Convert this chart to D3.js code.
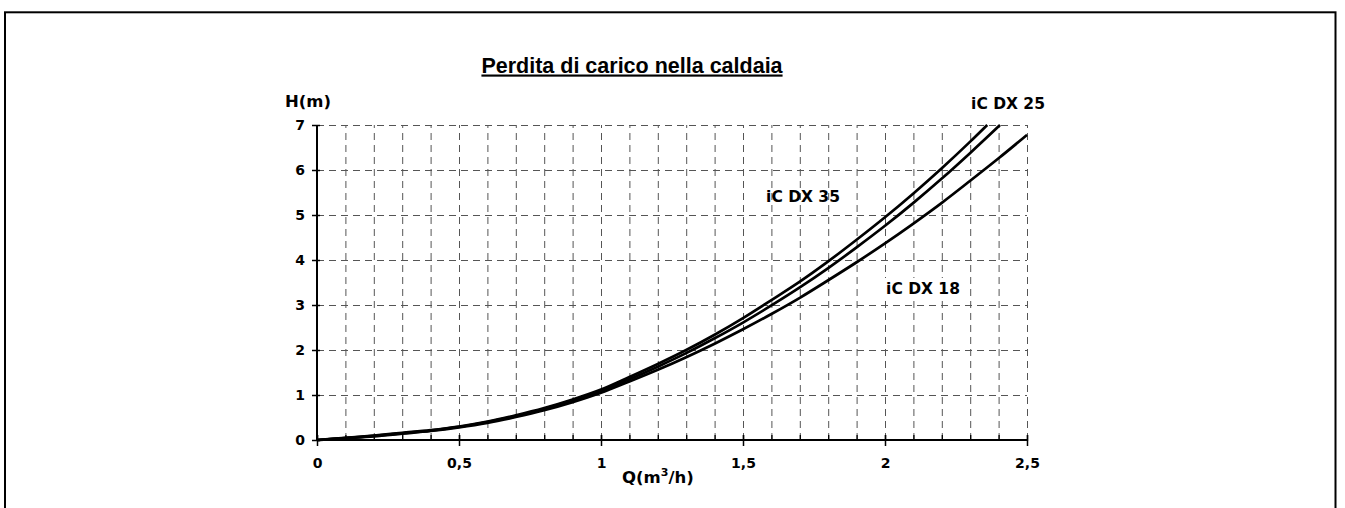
<!DOCTYPE html>
<html>
<head>
<meta charset="utf-8">
<script src="https://cdn.jsdelivr.net/npm/d3@7"></script>
<style>
  html, body { margin: 0; padding: 0; background: #fff; }
  svg { display: block; }
  text { font-family: "DejaVu Sans", Verdana, sans-serif; font-weight: bold; fill: #000; }
</style>
</head>
<body>
<svg id="chart" width="1345" height="508"></svg>
<script>
// ---- data ----
const title = "Perdita di carico nella caldaia";
const yAxisTitle = "H(m)";
const xTickValues = [0, 0.5, 1, 1.5, 2, 2.5];
const xTickLabels = ["0", "0,5", "1", "1,5", "2", "2,5"];
const yTickValues = [0, 1, 2, 3, 4, 5, 6, 7];
const yTickLabels = ["0", "1", "2", "3", "4", "5", "6", "7"];
const seriesNames = ["iC DX 25", "iC DX 35", "iC DX 18"];
const qDX25 = [0, 0.1, 0.2, 0.3, 0.4, 0.5, 0.6, 0.7, 0.8, 0.9, 1.0, 1.1, 1.2, 1.3, 1.4, 1.5, 1.6, 1.7, 1.8, 1.9, 2.0, 2.1, 2.2, 2.3, 2.36];
const hDX25 = [0, 0.05, 0.1, 0.16, 0.22, 0.3, 0.41, 0.55, 0.71, 0.9, 1.12, 1.4, 1.69, 2.0, 2.34, 2.71, 3.11, 3.52, 3.97, 4.45, 4.95, 5.48, 6.04, 6.63, 7.0];
const qDX35 = [0, 0.1, 0.2, 0.3, 0.4, 0.5, 0.6, 0.7, 0.8, 0.9, 1.0, 1.1, 1.2, 1.3, 1.4, 1.5, 1.6, 1.7, 1.8, 1.9, 2.0, 2.1, 2.2, 2.3, 2.405];
const hDX35 = [0, 0.04, 0.09, 0.15, 0.21, 0.29, 0.4, 0.53, 0.69, 0.88, 1.09, 1.35, 1.63, 1.93, 2.26, 2.61, 2.99, 3.39, 3.82, 4.28, 4.76, 5.27, 5.81, 6.38, 7.0];
const qDX18 = [0, 0.1, 0.2, 0.3, 0.4, 0.5, 0.6, 0.7, 0.8, 0.9, 1.0, 1.1, 1.2, 1.3, 1.4, 1.5, 1.6, 1.7, 1.8, 1.9, 2.0, 2.1, 2.2, 2.3, 2.4, 2.5];
const hDX18 = [0, 0.04, 0.08, 0.14, 0.2, 0.28, 0.38, 0.51, 0.66, 0.84, 1.05, 1.3, 1.56, 1.84, 2.14, 2.46, 2.8, 3.16, 3.55, 3.95, 4.37, 4.81, 5.27, 5.76, 6.26, 6.78];

// ---- layout ----
const svg = d3.select("#chart");
const X0 = 317, X1 = 1027, Y0 = 440, Y1 = 125;
const x = d3.scaleLinear().domain([0, 2.5]).range([X0, X1]);
const y = d3.scaleLinear().domain([0, 7]).range([Y0, Y1]);
const minorX = d3.range(0, 26).map(i => +(i / 10).toFixed(1));
const FONT = '"DejaVu Sans", Verdana, sans-serif';

// outer frame
svg.append("rect").attr("x", 5).attr("y", 12.3).attr("width", 1330.5).attr("height", 520)
  .attr("fill", "none").attr("stroke", "#000").attr("stroke-width", 2);

// vertical grid
const gv = svg.append("g").attr("transform", `translate(0,${Y0})`)
  .call(d3.axisBottom(x).tickValues(minorX.slice(1)).tickSize(-(Y0 - Y1)).tickFormat(""));
gv.select(".domain").remove();
gv.selectAll("line").attr("stroke", "#555").attr("stroke-width", 1).attr("stroke-dasharray", "7,5")
  .attr("y2", -(Y0 - Y1)).attr("y1", 0);

// horizontal grid
const gh = svg.append("g").attr("transform", `translate(${X0},0)`)
  .call(d3.axisLeft(y).tickValues(yTickValues.slice(1)).tickSize(-(X1 - X0)).tickFormat(""));
gh.select(".domain").remove();
gh.selectAll("line").attr("stroke", "#555").attr("stroke-width", 1).attr("stroke-dasharray", "7,5");

// curves
const line = d3.line().x(d => x(d[0])).y(d => y(d[1])).curve(d3.curveMonotoneX);
const series = [
  d3.zip(qDX25, hDX25),
  d3.zip(qDX35, hDX35),
  d3.zip(qDX18, hDX18)
];
svg.append("g").selectAll("path").data(series).join("path")
  .attr("d", line).attr("fill", "none").attr("stroke", "#000").attr("stroke-width", 2.7)
  .attr("stroke-linejoin", "round");

// x axis: minor ticks
const xMinor = svg.append("g").attr("transform", `translate(0,${Y0})`)
  .call(d3.axisBottom(x).tickValues(minorX).tickSize(0).tickFormat(""));
xMinor.select(".domain").remove();
xMinor.selectAll(".tick line").attr("y1", -5).attr("y2", 1).attr("stroke", "#000").attr("stroke-width", 1.3);

// x axis: major ticks + labels
const xAxis = svg.append("g").attr("transform", `translate(0,${Y0})`)
  .call(d3.axisBottom(x).tickValues(xTickValues).tickSize(5).tickFormat((d, i) => xTickLabels[i]));
xAxis.select(".domain").attr("d", `M${X0},0H${X1}`).attr("stroke", "#000").attr("stroke-width", 2);
xAxis.selectAll(".tick line").attr("y1", -5).attr("y2", 6).attr("stroke", "#000").attr("stroke-width", 1.5);
xAxis.selectAll(".tick text").attr("y", 28).attr("dy", null)
  .style("font-size", "14px").style("font-family", FONT).style("font-weight", "bold").attr("fill", "#000");

// y axis
const yAxis = svg.append("g").attr("transform", `translate(${X0},0)`)
  .call(d3.axisLeft(y).tickValues(yTickValues).tickSize(5).tickPadding(7).tickFormat((d, i) => yTickLabels[i]));
yAxis.select(".domain").attr("d", `M0,${Y0}V${Y1}`).attr("stroke", "#000").attr("stroke-width", 2);
yAxis.selectAll(".tick line").attr("x1", 3).attr("x2", -5).attr("stroke", "#000").attr("stroke-width", 1.5);
yAxis.selectAll(".tick text").attr("x", -12)
  .style("font-size", "14px").style("font-family", FONT).style("font-weight", "bold").attr("fill", "#000");

// title
svg.append("text").attr("x", 632).attr("y", 72.5).attr("text-anchor", "middle")
  .style("font-family", '"Liberation Sans", Arial, sans-serif').style("font-size", "21.5px")
  .style("text-decoration", "underline").text(title);

// axis titles
svg.append("text").attr("x", 285).attr("y", 107).style("font-size", "16.5px").text(yAxisTitle);
const qt = svg.append("text").attr("x", 622).attr("y", 483).style("font-size", "16.5px");
qt.append("tspan").text("Q(m");
qt.append("tspan").attr("dy", -7).style("font-size", "11px").text("3");
qt.append("tspan").attr("dy", 7).text("/h)");

// series labels
const labelPos = [[1008, 103], [803, 196], [923, 288]];
labelPos.forEach((p, i) => {
  if (i === 2) {
    svg.append("rect").attr("x", p[0] - 40).attr("y", p[1] - 10).attr("width", 80).attr("height", 20).attr("fill", "#fff");
  }
  svg.append("text").attr("x", p[0]).attr("y", p[1]).attr("dy", "0.36em").attr("text-anchor", "middle")
    .style("font-size", "15.5px").text(seriesNames[i]);
});
</script>
</body>
</html>
